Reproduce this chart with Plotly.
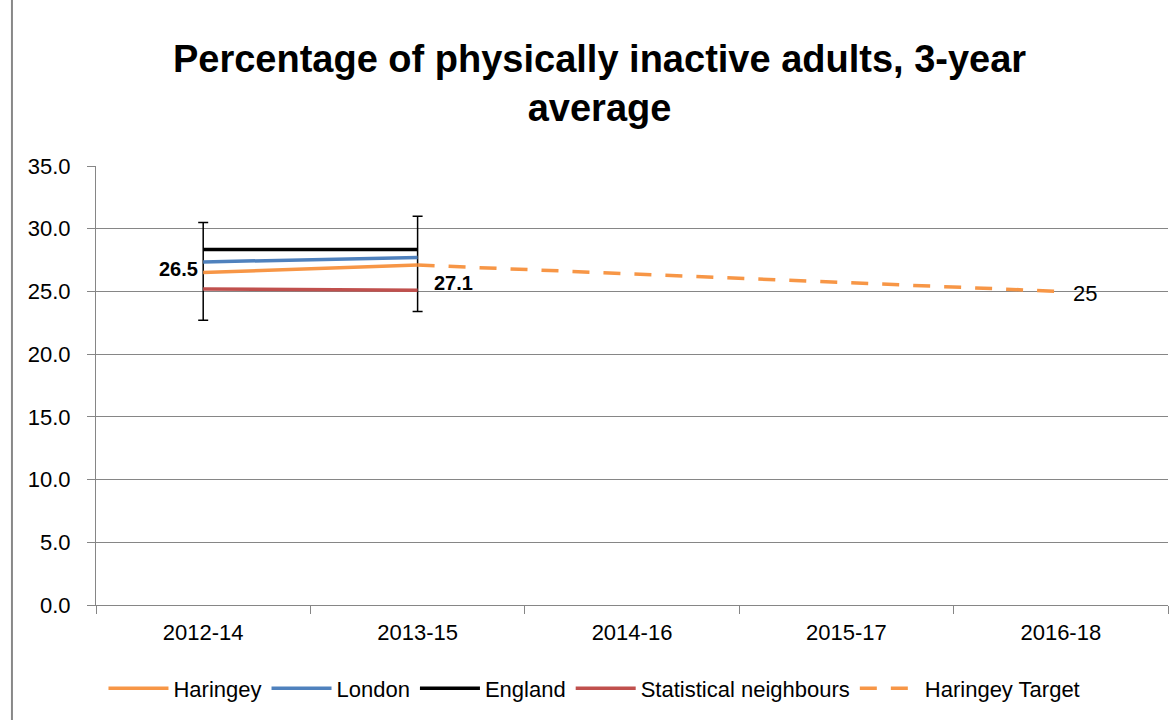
import plotly.graph_objects as go

categories = ["2012-14", "2013-15", "2014-16", "2015-17", "2016-18"]
haringey = [26.5, 27.1]
haringey_err_plus = [4.0, 3.9]
haringey_err_minus = [3.8, 3.7]
london = [27.35, 27.7]
england = [28.35, 28.35]
stat_neigh = [25.2, 25.1]
target_cats = ["2013-15", "2014-16", "2015-17", "2016-18"]
target = [27.1, 26.4, 25.7, 25.0]

ORANGE = "#F79646"
BLUE = "#4F81BD"
RED = "#C0504D"
FONT = "Liberation Sans"

fig = go.Figure()
fig.add_trace(go.Scatter(x=categories[:2], y=haringey, mode="lines", name="Haringey",
                         line=dict(color=ORANGE, width=3.5),
                         error_y=dict(type="data", symmetric=False, array=haringey_err_plus,
                                      arrayminus=haringey_err_minus, color="black",
                                      thickness=1.5, width=5)))
fig.add_trace(go.Scatter(x=categories[:2], y=london, mode="lines", name="London",
                         line=dict(color=BLUE, width=3.5)))
fig.add_trace(go.Scatter(x=categories[:2], y=england, mode="lines", name="England",
                         line=dict(color="black", width=3.5)))
fig.add_trace(go.Scatter(x=categories[:2], y=stat_neigh, mode="lines", name="Statistical neighbours",
                         line=dict(color=RED, width=3.5)))
fig.add_trace(go.Scatter(x=target_cats, y=target, mode="lines", name="Haringey Target",
                         line=dict(color=ORANGE, width=3.5, dash="17px,14px")))

fig.add_annotation(x=categories[0], y=haringey[0], text="<b>26.5</b>", showarrow=False,
                   xanchor="right", xshift=-3, yshift=4, font=dict(size=20, color="black", family=FONT))
fig.add_annotation(x=categories[1], y=haringey[1], text="<b>27.1</b>", showarrow=False,
                   xanchor="left", xshift=14, yshift=-18, font=dict(size=20, color="black", family=FONT))
fig.add_annotation(x=target_cats[-1], y=target[-1], text="25", showarrow=False,
                   xanchor="left", xshift=10, yshift=-2, font=dict(size=22, color="black", family=FONT))

fig.add_shape(type="line", xref="paper", yref="paper", x0=-0.0784, x1=-0.0784,
              y0=-0.27, y1=1.39, line=dict(color="#888888", width=2))

fig.update_layout(
    width=1171, height=720,
    margin=dict(l=96, r=3, t=166, b=115),
    paper_bgcolor="white", plot_bgcolor="white",
    font=dict(family=FONT, size=22, color="black"),
    title=dict(text="<b>Percentage of physically inactive adults, 3-year<br>average</b>",
               x=0.512, xanchor="center", y=0.9, yanchor="top",
               font=dict(size=38, family=FONT, color="black")),
    showlegend=True,
    legend=dict(orientation="h", x=0.465, xanchor="center", y=-0.19, yanchor="middle",
                font=dict(size=22, family=FONT), itemwidth=60, traceorder="normal"),
    xaxis=dict(type="category", categoryorder="array", categoryarray=categories,
               range=[-0.5, 4.5], showgrid=False, showline=True, linecolor="#868686",
               linewidth=1, ticks="outside", tickson="boundaries", ticklen=8,
               tickcolor="#868686", tickfont=dict(size=22), ticklabelstandoff=8),
    yaxis=dict(range=[0, 35], dtick=5, tickformat=".1f", showgrid=True,
               gridcolor="#868686", gridwidth=1, showline=True, linecolor="#868686",
               ticks="outside", ticklen=8, tickcolor="#868686", tickfont=dict(size=22),
               ticklabelstandoff=12, zeroline=False),
)

fig.write_html("out.html")
